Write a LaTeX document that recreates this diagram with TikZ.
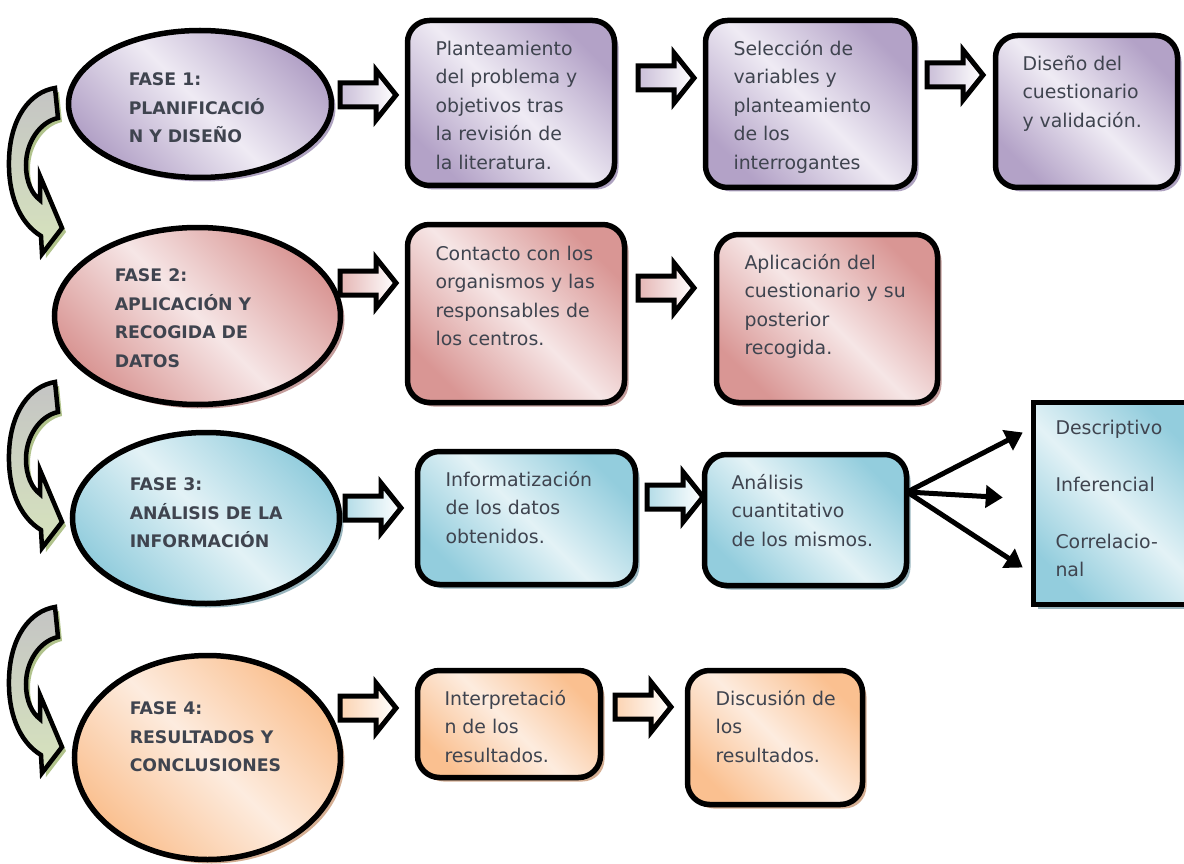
\documentclass[tikz,border=0pt]{standalone}
\usepackage{fontspec}
\setmainfont{DejaVu Sans}
\usetikzlibrary{arrows.meta,calc,shapes,shadows,positioning}

\definecolor{lilaosc}{HTML}{B3A2C7}
\definecolor{lilacla}{HTML}{EFEBF4}
\definecolor{lilasombra}{HTML}{9A8BB0}
\definecolor{rojoosc}{HTML}{D99694}
\definecolor{rojocla}{HTML}{F6E6E6}
\definecolor{rojosombra}{HTML}{B58583}
\definecolor{azulosc}{HTML}{93CDDD}
\definecolor{azulcla}{HTML}{E3F2F6}
\definecolor{azulsombra}{HTML}{7FA3AE}
\definecolor{naranjaosc}{HTML}{FAC090}
\definecolor{naranjacla}{HTML}{FDECDF}
\definecolor{naranjasombra}{HTML}{C99A78}
\definecolor{gris}{HTML}{C4C4C4}
\definecolor{verdecla}{HTML}{D7E4BD}
\definecolor{verdesombra}{HTML}{A9BD80}
\definecolor{textogris}{HTML}{3F444F}

\tikzset{
  fase/.style={ellipse, draw=black, inner sep=0pt,
    left color=#1osc, right color=#1osc, middle color=#1cla, shading angle=-45,
    drop shadow={shadow xshift=4pt, shadow yshift=-4pt, fill=#1sombra, opacity=.8}},
  caja/.style={rounded corners=22pt, draw=black, inner sep=0pt,
    left color=#1osc, right color=#1osc, middle color=#1cla, shading angle=-45,
    drop shadow={shadow xshift=4pt, shadow yshift=-4pt, fill=#1sombra, opacity=.8}},
  textofase/.style={anchor=north west, inner sep=0pt, align=left, text=textogris,
    font=\bfseries\fontsize{17.3}{28.5}\selectfont},
  textocaja/.style={inner sep=0pt, align=left, text=textogris,
    font=\fontsize{18.9}{28.5}\selectfont},
  flecha/.style={line width=5pt, line join=miter, draw=black,
    left color=#1osc!70!white, right color=white,
    drop shadow={shadow xshift=4pt, shadow yshift=-4pt, fill=#1sombra, opacity=.8}},
  flechita/.style={line width=5pt, -{Triangle[length=17pt,width=22pt]}},
  curva/.style={line width=4.5pt, line join=miter, draw=black, top color=gris, bottom color=verdecla,
    drop shadow={shadow xshift=4pt, shadow yshift=-4pt, fill=verdesombra, opacity=.9}},
  pics/bloque/.style={code={
    \path[pic actions] (0,-12) -- (36,-12) -- (36,-25) -- (56,0) -- (36,25) -- (36,12) -- (0,12) -- cycle;}}
}

\begin{document}
\begin{tikzpicture}[x=1pt,y=-1pt,line width=5.5pt]
\useasboundingbox (0,0) rectangle (1184,864);
\clip (0,0) rectangle (1184,864);
%curved arrows between the phases
\foreach \dy in {0,294,519}{
\begin{scope}[shift={(0,\dy)}]
\path[curva] (55,88) -- (58,118)
  .. controls (40,122) and (26,142) .. (26,165)
  .. controls (26,182) and (32,194) .. (40,200)
  -- (40,176) -- (62,228) -- (42,254) -- (41,236)
  .. controls (18,222) and (8,192) .. (9,160)
  .. controls (10,118) and (30,92) .. cycle;
\end{scope}
}
%fases
\node[fase=lila, minimum width=263pt, minimum height=147pt] (f1) at (200,104) {};
\node[fase=rojo, minimum width=286pt, minimum height=177pt] (f2) at (197.5,316) {};
\node[fase=azul, minimum width=267pt, minimum height=171pt] (f3) at (206,518) {};
\node[fase=naranja, minimum width=266pt, minimum height=204pt] (f4) at (207.5,757.5) {};
\node[textofase] (tf1) at ($(f1)+(-74,-41)$) {\strut FASE 1:\\PLANIFICACIÓ\\N Y DISEÑO};
\node[textofase] (tf2) at ($(f2)+(-85.5,-57)$) {\strut FASE 2:\\APLICACIÓN Y\\RECOGIDA DE\\DATOS};
\node[textofase] (tf3) at ($(f3)+(-79,-50)$) {\strut FASE 3:\\ANÁLISIS DE LA\\INFORMACIÓN};
\node[textofase] (tf4) at ($(f4)+(-80.5,-65.5)$) {\strut FASE 4:\\RESULTADOS Y\\CONCLUSIONES};
%fase 1
\node[caja=lila, minimum width=207pt, minimum height=165pt] (b11) at (511,103) {};
\node[caja=lila, minimum width=209pt, minimum height=167pt] (b12) at (810,104) {};
\node[caja=lila, minimum width=182pt, minimum height=152pt] (b13) at (1086.5,111.5) {};
\node[textocaja, below right=15pt and 28pt of b11.north west] (t11) {\strut Planteamiento\\del problema y\\objetivos tras\\la revisión de\\la literatura.};
\node[textocaja, below right=15pt and 28pt of b12.north west] (t12) {\strut Selección de\\variables y\\planteamiento\\de los\\interrogantes};
\node[textocaja, below right=15pt and 27pt of b13.north west] (t13) {\strut Diseño del\\cuestionario\\y validación.};
%fase 2
\node[caja=rojo, minimum width=217pt, minimum height=178pt] (b21) at (516,313.5) {};
\node[caja=rojo, minimum width=221pt, minimum height=168pt] (b22) at (827,318.5) {};
\node[textocaja, below right=16pt and 28pt of b21.north west] (t21) {\strut Contacto con los\\organismos y las\\responsables de\\los centros.};
\node[textocaja, below right=15pt and 28pt of b22.north west] (t22) {\strut Aplicación del\\cuestionario y su\\posterior\\recogida.};
%fase 3
\node[caja=azul, minimum width=218pt, minimum height=133pt] (b31) at (526.5,518) {};
\node[caja=azul, minimum width=202pt, minimum height=131pt] (b32) at (805.5,520) {};
\node[caja=azul, sharp corners, minimum width=164pt, minimum height=202pt] (b33) at (1115.5,503.5) {};
\node[textocaja, below right=15pt and 28pt of b31.north west] (t31) {\strut Informatización\\de los datos\\obtenidos.};
\node[textocaja, below right=15pt and 27pt of b32.north west] (t32) {\strut Análisis\\cuantitativo\\de los mismos.};
\node[textocaja, below right=12pt and 22pt of b33.north west] (t33) {\strut Descriptivo\\[28.5pt]Inferencial\\[28.5pt]Correlacio-\\nal};
%fase 4
\node[caja=naranja, minimum width=183pt, minimum height=107pt] (b41) at (509,724) {};
\node[caja=naranja, minimum width=175pt, minimum height=134pt] (b42) at (775,737.5) {};
\node[textocaja, below right=15pt and 27pt of b41.north west] (t41) {\strut Interpretació\\n de los\\resultados.};
\node[textocaja, below right=15pt and 28pt of b42.north west] (t42) {\strut Discusión de\\los\\resultados.};
%block arrows
\pic[flecha=lila] at (340,95) {bloque};
\pic[flecha=lila] at (638,78) {bloque};
\pic[flecha=lila] at (927,75) {bloque};
\pic[flecha=rojo] at (340,283) {bloque};
\pic[flecha=rojo] at (638,288) {bloque};
\pic[flecha=azul] at (345,508) {bloque};
\pic[flecha=azul] at (647,497) {bloque};
\pic[flecha=naranja] at (340,708) {bloque};
\pic[flecha=naranja] at (615,707) {bloque};
%tipos de analisis
\coordinate (salida) at ($(b32.east)+(-2,-28)$);
\coordinate (desc) at ($(b33.west)+(-8,-71)$);
\coordinate (infer) at ($(b33.west)+(-28,-6)$);
\coordinate (correl) at ($(b33.west)+(-8,64)$);
\draw[flechita] (salida) -- (desc);
\draw[flechita] (salida) -- (infer);
\draw[flechita] (salida) -- (correl);
\end{tikzpicture}
\end{document}
